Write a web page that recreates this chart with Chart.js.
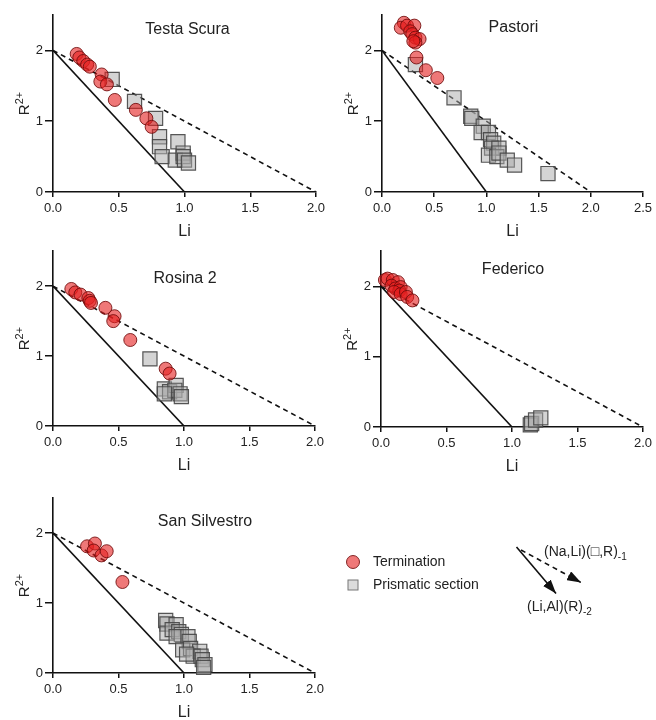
<!DOCTYPE html>
<html>
<head>
<meta charset="utf-8">
<title>Li vs R2+</title>
<script src="https://cdn.jsdelivr.net/npm/chart.js@4.4.1/dist/chart.umd.min.js"></script>
<style>
  html, body { margin: 0; padding: 0; background: #fff; }
  #page { position: relative; width: 656px; height: 720px; overflow: hidden; font-family: "Liberation Sans", Arial, sans-serif; }
  #page canvas { position: absolute; }
  #key { position: absolute; left: 326px; top: 530px; }
  #key text { font-family: "Liberation Sans", "DejaVu Sans", Arial, sans-serif; fill: #222; }
</style>
</head>
<body>
<div id="page">
  <canvas id="testa"></canvas>
  <canvas id="pastori"></canvas>
  <canvas id="rosina"></canvas>
  <canvas id="federico"></canvas>
  <canvas id="silvestro"></canvas>

  <svg id="key" width="330" height="100">
    <defs>
      <marker id="head" viewBox="0 0 14 10" refX="14" refY="5" markerUnits="userSpaceOnUse"
              markerWidth="14" markerHeight="10" orient="auto">
        <path d="M0,0 L14,5 L0,10 Z" fill="#111"/>
      </marker>
    </defs>
    <circle cx="27" cy="32" r="6.5" fill="rgba(228,30,30,0.6)" stroke="rgba(110,10,10,0.85)" stroke-width="1"/>
    <text x="47" y="32" font-size="14" dominant-baseline="middle">Termination</text>
    <rect x="22" y="50" width="10" height="10" fill="#dcdcdc" stroke="#777" stroke-width="1"/>
    <text x="47" y="55" font-size="14" dominant-baseline="middle">Prismatic section</text>

    <line x1="190.5" y1="17" x2="230" y2="63.5" stroke="#111" stroke-width="1.6" marker-end="url(#head)"/>
    <line x1="195" y1="20" x2="255" y2="52.5" stroke="#111" stroke-width="1.6" stroke-dasharray="5,4" marker-end="url(#head)"/>
    <text x="218" y="22" font-size="14" dominant-baseline="middle">(Na,Li)(□,R)<tspan font-size="10" dy="5">-1</tspan></text>
    <text x="201" y="77" font-size="14" dominant-baseline="middle">(Li,Al)(R)<tspan font-size="10" dy="5">-2</tspan></text>
  </svg>
</div>

<script>
// Li (x) vs R2+ (y) per locality, [Li, R2+]
const testaTermination = [[0.18,1.95],[0.20,1.90],[0.23,1.85],[0.26,1.80],[0.28,1.77],[0.37,1.66],[0.36,1.56],[0.41,1.52],[0.47,1.30],[0.63,1.16],[0.71,1.04],[0.75,0.92]];
const testaPrismatic = [[0.45,1.59],[0.62,1.28],[0.78,1.04],[0.81,0.78],[0.81,0.64],[0.83,0.50],[0.95,0.71],[0.93,0.45],[0.99,0.55],[0.99,0.50],[1.00,0.45],[1.03,0.41]];

const pastoriTermination = [[0.21,2.39],[0.18,2.32],[0.24,2.35],[0.31,2.35],[0.27,2.27],[0.29,2.23],[0.32,2.18],[0.36,2.16],[0.32,2.11],[0.30,2.13],[0.33,1.90],[0.42,1.72],[0.53,1.61]];
const pastoriPrismatic = [[0.32,1.80],[0.69,1.33],[0.85,1.07],[0.86,1.04],[0.97,0.93],[0.95,0.84],[1.02,0.84],[1.04,0.74],[1.07,0.69],[1.05,0.62],[1.12,0.62],[1.02,0.52],[1.10,0.50],[1.12,0.55],[1.20,0.45],[1.27,0.38],[1.59,0.26]];

const rosinaTermination = [[0.14,1.96],[0.17,1.91],[0.21,1.88],[0.27,1.83],[0.28,1.79],[0.29,1.76],[0.40,1.69],[0.47,1.57],[0.46,1.50],[0.59,1.23],[0.86,0.82],[0.89,0.75]];
const rosinaPrismatic = [[0.74,0.96],[0.85,0.53],[0.89,0.49],[0.94,0.58],[0.93,0.51],[0.97,0.46],[0.98,0.42],[0.85,0.46]];

const federicoTermination = [[0.03,2.09],[0.05,2.11],[0.09,2.09],[0.13,2.06],[0.08,2.01],[0.11,1.97],[0.15,1.99],[0.14,1.94],[0.10,1.92],[0.15,1.89],[0.19,1.92],[0.20,1.85],[0.24,1.80]];
const federicoPrismatic = [[1.14,0.03],[1.15,0.05],[1.18,0.10],[1.22,0.13]];

const silvestroTermination = [[0.26,1.81],[0.32,1.85],[0.31,1.75],[0.37,1.68],[0.41,1.74],[0.53,1.30]];
const silvestroPrismatic = [[0.86,0.75],[0.87,0.70],[0.94,0.69],[0.87,0.57],[0.91,0.62],[0.96,0.59],[0.98,0.55],[0.94,0.52],[1.03,0.52],[1.04,0.45],[0.99,0.33],[1.05,0.35],[1.12,0.31],[1.07,0.24],[1.13,0.24],[1.14,0.19],[1.16,0.12],[1.15,0.08],[1.02,0.27]];

// substitution vectors
const solidLine = [[0,2],[1,0]];
const dashedLine = [[0,2],[2,0]];

// ticks
const xTicksShort = [0, 0.5, 1, 1.5, 2];
const xTicksLong = [0, 0.5, 1, 1.5, 2, 2.5];
const yTicks = [0, 1, 2];

const FONT = '"Liberation Sans", Arial, sans-serif';
const INK = '#111';

// box = canvas [left, top, width, height]; area = wanted plot area [left, top, right, bottom]
const panels = [
  { id: 'testa', name: 'Testa Scura', term: testaTermination, prism: testaPrismatic, xTicks: xTicksShort,
    box: [0, 0, 330, 245], area: [53, 15, 316, 192], titleDx: 3, titleDy: 15 },
  { id: 'pastori', name: 'Pastori', term: pastoriTermination, prism: pastoriPrismatic, xTicks: xTicksLong,
    box: [326, 0, 330, 245], area: [382, 15, 645, 192], titleDx: 1, titleDy: 13 },
  { id: 'rosina', name: 'Rosina 2', term: rosinaTermination, prism: rosinaPrismatic, xTicks: xTicksShort,
    box: [0, 240, 330, 235], area: [53, 250, 315, 426], titleDx: 1, titleDy: 27 },
  { id: 'federico', name: 'Federico', term: federicoTermination, prism: federicoPrismatic, xTicks: xTicksShort,
    box: [326, 240, 330, 235], area: [381, 250, 644, 427], titleDx: 1, titleDy: 18 },
  { id: 'silvestro', name: 'San Silvestro', term: silvestroTermination, prism: silvestroPrismatic, xTicks: xTicksShort,
    box: [0, 485, 330, 235], area: [53, 498, 315, 673], titleDx: 21, titleDy: 24 }
];

const toPoints = arr => arr.map(([x, y]) => ({ x, y }));

function panelText(p) {
  return {
    id: 'panelText',
    afterDraw(chart) {
      const { ctx, chartArea: a } = chart;
      const cx = (a.left + a.right) / 2;
      ctx.save();
      ctx.fillStyle = '#222';
      ctx.textAlign = 'center';
      ctx.textBaseline = 'middle';
      ctx.font = '16px ' + FONT;
      ctx.fillText(p.name, cx + p.titleDx, a.top + p.titleDy);
      ctx.fillText('Li', cx, a.bottom + 40);

      // R2+ axis title, rotated
      ctx.translate(a.left - 28, (a.top + a.bottom) / 2);
      ctx.rotate(-Math.PI / 2);
      ctx.font = '15px ' + FONT;
      const wR = ctx.measureText('R').width;
      ctx.font = '11px ' + FONT;
      const wS = ctx.measureText('2+').width;
      const x0 = -(wR + wS) / 2;
      ctx.textAlign = 'left';
      ctx.font = '15px ' + FONT;
      ctx.fillText('R', x0, 0);
      ctx.font = '11px ' + FONT;
      ctx.fillText('2+', x0 + wR, -5);
      ctx.restore();
    }
  };
}

function makePanel(p) {
  const canvas = document.getElementById(p.id);
  const [bx, by, bw, bh] = p.box;
  const [al, at, ar, ab] = p.area;
  canvas.style.left = bx + 'px';
  canvas.style.top = by + 'px';
  canvas.width = bw;
  canvas.height = bh;

  const xMax = p.xTicks[p.xTicks.length - 1];

  return new Chart(canvas, {
    type: 'scatter',
    data: {
      datasets: [
        {
          label: 'Termination',
          data: toPoints(p.term),
          order: 0,
          clip: false,
          pointStyle: 'circle',
          pointRadius: 6.5,
          backgroundColor: 'rgba(228,30,30,0.6)',
          borderColor: 'rgba(110,10,10,0.85)',
          borderWidth: 1
        },
        {
          label: 'Prismatic section',
          data: toPoints(p.prism),
          order: 1,
          clip: false,
          pointStyle: 'rect',
          pointRadius: 10,
          backgroundColor: 'rgba(170,170,170,0.5)',
          borderColor: 'rgba(70,70,70,0.9)',
          borderWidth: 1.2
        },
        {
          type: 'line',
          data: toPoints(solidLine),
          order: 2,
          borderColor: INK,
          borderWidth: 1.6,
          pointRadius: 0
        },
        {
          type: 'line',
          data: toPoints(dashedLine),
          order: 3,
          borderColor: INK,
          borderWidth: 1.6,
          borderDash: [5, 4],
          pointRadius: 0
        }
      ]
    },
    options: {
      responsive: false,
      animation: false,
      devicePixelRatio: 1,
      events: [],
      layout: { padding: { left: 0, top: at - by, right: bx + bw - ar, bottom: 0 } },
      plugins: { legend: { display: false }, tooltip: { enabled: false } },
      scales: {
        x: {
          type: 'linear',
          min: 0,
          max: xMax,
          afterBuildTicks: s => { s.ticks = p.xTicks.map(v => ({ value: v })); },
          afterFit: s => { s.height = by + bh - ab; },
          ticks: {
            callback: v => Number(v).toFixed(1),
            font: { family: FONT, size: 13 },
            color: '#222',
            padding: 4,
            maxRotation: 0,
            autoSkip: false
          },
          grid: { drawOnChartArea: false, color: INK, lineWidth: 1.5, tickLength: 5 },
          border: { color: INK, width: 1.6 }
        },
        y: {
          type: 'linear',
          min: 0,
          max: 2.5,
          afterBuildTicks: s => { s.ticks = yTicks.map(v => ({ value: v })); },
          afterFit: s => { s.width = al - bx; },
          ticks: {
            callback: v => String(v),
            font: { family: FONT, size: 13 },
            color: '#222',
            padding: 2
          },
          grid: { drawOnChartArea: false, color: INK, lineWidth: 1.5, tickLength: 8 },
          border: { color: INK, width: 1.6 }
        }
      }
    },
    plugins: [panelText(p)]
  });
}

panels.forEach(makePanel);
</script>
</body>
</html>
